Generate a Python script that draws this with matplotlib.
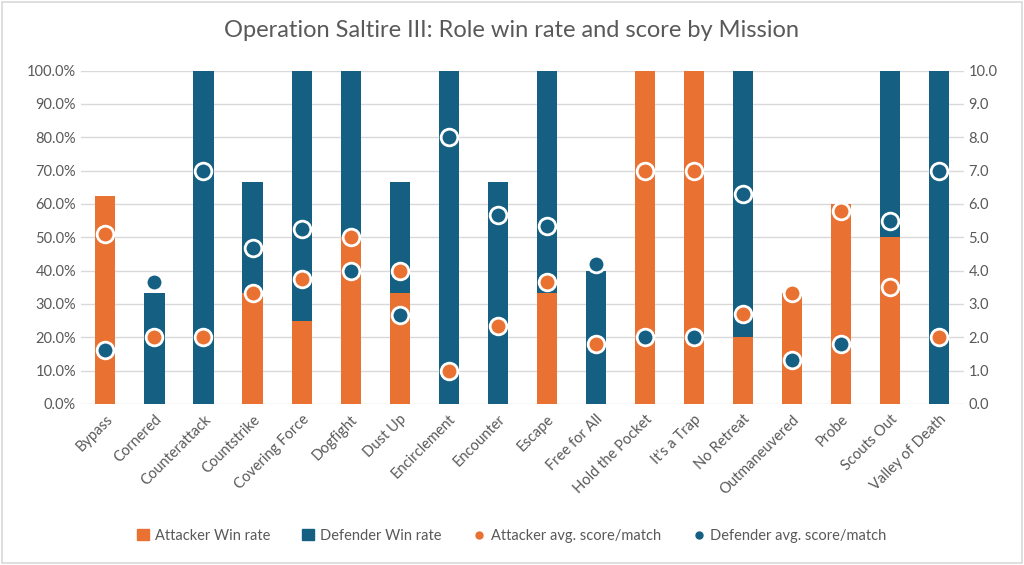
import matplotlib
matplotlib.use("Agg")
import matplotlib.pyplot as plt
from matplotlib.lines import Line2D
from matplotlib.patches import Patch
import numpy as np

plt.rcParams['font.family'] = ['Lato', 'DejaVu Sans']

missions = ["Bypass", "Cornered", "Counterattack", "Countstrike", "Covering Force",
            "Dogfight", "Dust Up", "Encirclement", "Encounter", "Escape",
            "Free for All", "Hold the Pocket", "It's a Trap", "No Retreat",
            "Outmaneuvered", "Probe", "Scouts Out", "Valley of Death"]
att_win = [62.5, 0, 0, 33.3, 25, 50, 33.3, 0, 0, 33.3, 0, 100, 100, 20, 33.3, 60, 50, 0]
def_win = [0, 33.3, 100, 33.3, 75, 50, 33.3, 100, 66.7, 66.7, 40, 0, 0, 80, 0, 0, 50, 100]
att_score = [5.1, 2.0, 2.0, 3.33, 3.75, 5.0, 4.0, 1.0, 2.33, 3.67, 1.8, 7.0, 7.0, 2.7, 3.33, 5.8, 3.5, 2.0]
def_score = [1.625, 3.67, 7.0, 4.67, 5.25, 4.0, 2.67, 8.0, 5.67, 5.33, 4.2, 2.0, 2.0, 6.3, 1.33, 1.8, 5.5, 7.0]

orange = "#E97132"
blue = "#156082"
grey = "#595959"

fig = plt.figure(figsize=(10.24, 5.65), dpi=100)
ax = fig.add_axes([0.079, 0.285, 0.862, 0.59])
x = np.arange(len(missions))

ax.bar(x, att_win, width=0.41, color=orange, zorder=2)
ax.bar(x, def_win, width=0.41, bottom=att_win, color=blue, zorder=2)
ax.set_ylim(0, 100)
ax.set_xlim(-0.5, len(missions) - 0.5)
ax.set_yticks(np.arange(0, 101, 10))
ax.set_yticklabels([f"{v:.1f}%" for v in range(0, 101, 10)])
ax.grid(axis='y', color="#D9D9D9", linewidth=1, zorder=0)
ax.set_axisbelow(True)
ax.set_xticks(x)
ax.set_xticklabels(missions, rotation=45, ha='right', rotation_mode='anchor')
for s in ax.spines.values():
    s.set_visible(False)
ax.tick_params(length=0, colors=grey, labelsize=10.5)
ax.tick_params(axis='x', pad=6)

ax2 = ax.twinx()
ax2.plot(x, att_score, 'o', color=orange, markersize=12, markeredgecolor='white',
         markeredgewidth=2, zorder=3)
ax2.plot(x, def_score, 'o', color=blue, markersize=12, markeredgecolor='white',
         markeredgewidth=2, zorder=3)
ax2.set_ylim(0, 10)
ax2.set_yticks(np.arange(0, 11, 1))
ax2.set_yticklabels([f"{v:.1f}" for v in range(0, 11)])
for s in ax2.spines.values():
    s.set_visible(False)
ax2.tick_params(length=0, colors=grey, labelsize=10.5)

fig.suptitle("Operation Saltire III: Role win rate and score by Mission",
             y=0.965, fontsize=17, color=grey)

handles = [Patch(color=orange, label="Attacker Win rate"),
           Patch(color=blue, label="Defender Win rate"),
           Line2D([], [], marker='o', linestyle='', color=orange, markersize=5,
                  label="Attacker avg. score/match"),
           Line2D([], [], marker='o', linestyle='', color=blue, markersize=5,
                  label="Defender avg. score/match")]
fig.legend(handles=handles, loc='center', bbox_to_anchor=(0.5, 0.052), ncol=4,
           frameon=False, fontsize=10.5, labelcolor=grey, handlelength=0.8,
           handletextpad=0.4, columnspacing=2.2)

fig.patches.append(plt.Rectangle((0.002, 0.003), 0.996, 0.994, transform=fig.transFigure,
                                 fill=False, edgecolor="#D9D9D9", linewidth=1.2))

plt.savefig("out.png", dpi=100)
